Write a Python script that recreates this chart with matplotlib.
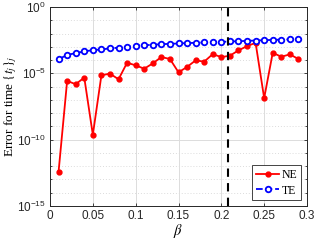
import numpy as np
import matplotlib
matplotlib.use("Agg")
import matplotlib.pyplot as plt
from matplotlib.ticker import FixedLocator, NullFormatter

beta = [0.01, 0.02, 0.03, 0.04, 0.05, 0.06, 0.07, 0.08, 0.09, 0.10,
        0.11, 0.12, 0.13, 0.14, 0.15, 0.16, 0.17, 0.18, 0.19, 0.20,
        0.21, 0.22, 0.23, 0.24, 0.25, 0.26, 0.27, 0.28, 0.29]
ne_log = [-12.42, -5.57, -5.82, -5.32, -9.63, -5.15, -5.02, -5.45, -4.2, -4.4,
          -4.65, -4.25, -3.77, -3.92, -4.92, -4.52, -4.02, -4.12, -3.55, -3.78,
          -3.67, -3.27, -2.95, -2.7, -6.87, -3.45, -3.75, -3.57, -3.92]
te_log = [-3.93, -3.62, -3.47, -3.35, -3.25, -3.2, -3.12, -3.07, -3.0, -2.92,
          -2.88, -2.85, -2.8, -2.78, -2.75, -2.72, -2.7, -2.67, -2.65, -2.63,
          -2.6, -2.58, -2.55, -2.53, -2.5, -2.48, -2.46, -2.44, -2.4]
beta_star = 0.2075
ne = [10 ** v for v in ne_log]
te = [10 ** v for v in te_log]

plt.rcParams['mathtext.fontset'] = 'stix'
fig = plt.figure(figsize=(3.16, 2.41), dpi=100)
ax = fig.add_axes([50/316, 1 - 206/241, 257/316, 199/241])

ax.semilogy(beta, ne, '-', color='red', lw=1.3, marker='o', ms=3.5,
            mfc='red', mec='red', label='NE', zorder=3)
ax.semilogy(beta, te, '--', color='blue', lw=1.3, marker='o', ms=4.0,
            mfc='white', mec='blue', mew=1.3, label='TE', zorder=3)
ax.axvline(beta_star, color='black', ls=(0, (4, 3)), lw=1.5, zorder=4)

ax.set_xlim(0, 0.3)
ax.set_ylim(1e-15, 1e0)
ax.xaxis.set_major_locator(FixedLocator([0, 0.05, 0.1, 0.15, 0.2, 0.25, 0.3]))
ax.set_xticklabels(['0', '0.05', '0.1', '0.15', '0.2', '0.25', '0.3'])
ax.yaxis.set_major_locator(FixedLocator([1e-15, 1e-10, 1e-5, 1e0]))
ax.set_yticklabels([r'$\mathregular{10^{-15}}$', r'$\mathregular{10^{-10}}$',
                    r'$\mathregular{10^{-5}}$', r'$\mathregular{10^{0}}$'])
ax.yaxis.set_minor_locator(FixedLocator([10.0 ** k for k in range(-15, 1)]))
ax.yaxis.set_minor_formatter(NullFormatter())

ax.grid(True, which='major', color='#dcdcdc', lw=0.7, ls='-')
ax.grid(True, which='minor', axis='y', color='#dcdcdc', lw=0.7, ls=(0, (1, 2)))
ax.set_axisbelow(True)

for s in ax.spines.values():
    s.set_color('#262626')
    s.set_linewidth(0.7)
ax.tick_params(which='both', direction='in', top=True, right=True,
               labelsize=8.5, colors='#262626', length=2.5, width=0.6, pad=3)
ax.tick_params(which='minor', length=1.5)
for lab in ax.get_xticklabels() + ax.get_yticklabels():
    lab.set_fontfamily('Liberation Sans')

ax.set_ylabel(r'Error for time $\{t_j\}_j$', fontsize=9.5,
              family='Liberation Serif')
ax.yaxis.set_label_coords((19 - 50) / 257, 0.5)
ax.set_xlabel(r'$\beta$', fontsize=10.5, labelpad=0)

leg = ax.legend(loc='lower right', prop={'family': 'Liberation Serif', 'size': 8.5},
                fancybox=False, edgecolor='#262626', framealpha=1,
                handlelength=2.0, borderpad=0.3, labelspacing=0.3,
                handletextpad=0.2, borderaxespad=0.5)
leg.get_frame().set_linewidth(0.6)

fig.savefig('out.png', dpi=100)
